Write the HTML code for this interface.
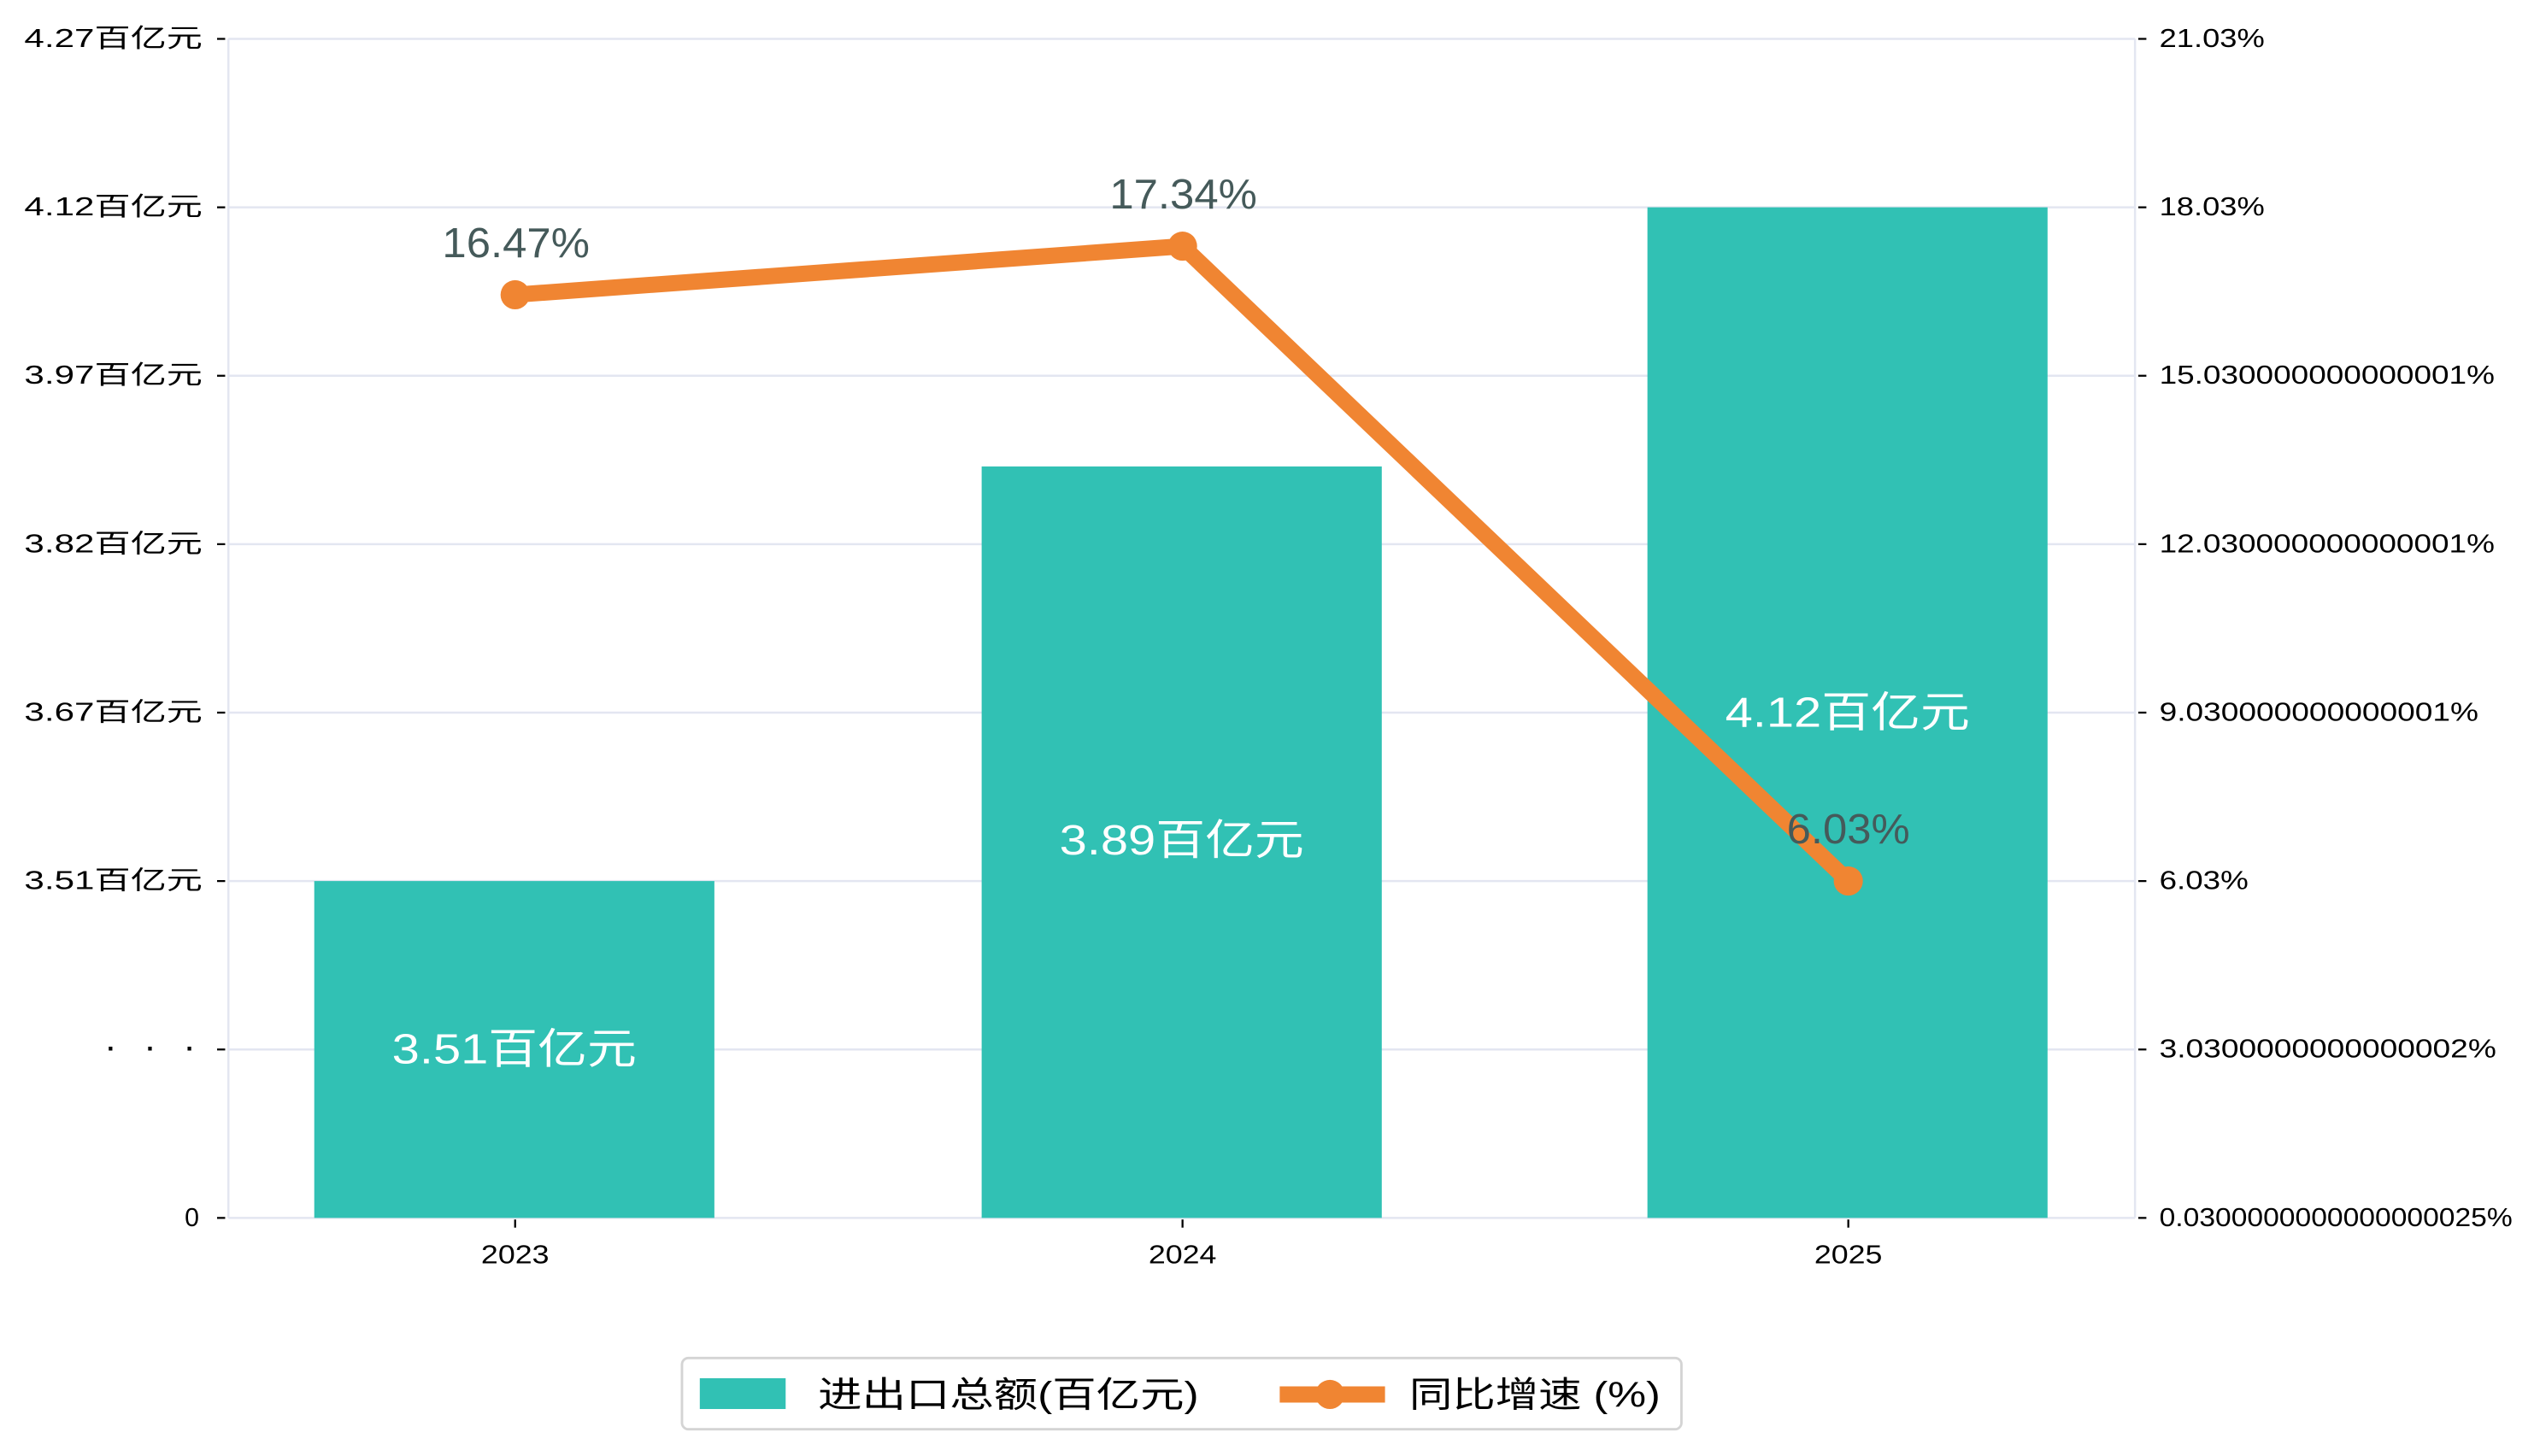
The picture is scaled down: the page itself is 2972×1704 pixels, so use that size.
<!DOCTYPE html>
<html><head><meta charset="utf-8"><style>html,body{margin:0;padding:0;background:#fff}svg{display:block}</style></head>
<body>
<svg width="2972" height="1704" viewBox="0 0 1568 899" xmlns="http://www.w3.org/2000/svg" font-family="'Liberation Sans','Noto Sans CJK SC',sans-serif">
<g stroke="#e3e6f1" stroke-width="1.3">
<line x1="141" y1="24" x2="1318" y2="24"/><line x1="141" y1="128" x2="1318" y2="128"/>
<line x1="141" y1="232" x2="1318" y2="232"/><line x1="141" y1="336" x2="1318" y2="336"/>
<line x1="141" y1="440" x2="1318" y2="440"/><line x1="141" y1="544" x2="1318" y2="544"/>
<line x1="141" y1="648" x2="1318" y2="648"/><line x1="141" y1="752" x2="1318" y2="752"/>
<line x1="141" y1="24" x2="141" y2="752"/><line x1="1318" y1="24" x2="1318" y2="752"/>
</g>
<g stroke="#000" stroke-width="1.2">
<line x1="134" y1="24" x2="139" y2="24"/><line x1="134" y1="128" x2="139" y2="128"/><line x1="134" y1="232" x2="139" y2="232"/><line x1="134" y1="336" x2="139" y2="336"/><line x1="134" y1="440" x2="139" y2="440"/><line x1="134" y1="544" x2="139" y2="544"/><line x1="134" y1="648" x2="139" y2="648"/><line x1="134" y1="752" x2="139" y2="752"/>
<line x1="1320" y1="24" x2="1325" y2="24"/><line x1="1320" y1="128" x2="1325" y2="128"/><line x1="1320" y1="232" x2="1325" y2="232"/><line x1="1320" y1="336" x2="1325" y2="336"/><line x1="1320" y1="440" x2="1325" y2="440"/><line x1="1320" y1="544" x2="1325" y2="544"/><line x1="1320" y1="648" x2="1325" y2="648"/><line x1="1320" y1="752" x2="1325" y2="752"/>
<line x1="318" y1="753" x2="318" y2="758"/><line x1="730" y1="753" x2="730" y2="758"/><line x1="1141" y1="753" x2="1141" y2="758"/>
</g>
<g font-size="16" fill="#000" dominant-baseline="central" lengthAdjust="spacingAndGlyphs">
<text x="15" y="24" textLength="110" lengthAdjust="spacingAndGlyphs">4.27百亿元</text>
<text x="15" y="128" textLength="110" lengthAdjust="spacingAndGlyphs">4.12百亿元</text>
<text x="15" y="232" textLength="110" lengthAdjust="spacingAndGlyphs">3.97百亿元</text>
<text x="15" y="336" textLength="110" lengthAdjust="spacingAndGlyphs">3.82百亿元</text>
<text x="15" y="440" textLength="110" lengthAdjust="spacingAndGlyphs">3.67百亿元</text>
<text x="15" y="544" textLength="110" lengthAdjust="spacingAndGlyphs">3.51百亿元</text>
<text x="66" y="648" font-weight="bold" textLength="54" lengthAdjust="spacing">· · ·</text>
<text x="114" y="752">0</text>
</g>
<g font-size="16" fill="#000" dominant-baseline="central">
<text x="1333" y="24" textLength="65" lengthAdjust="spacingAndGlyphs">21.03%</text>
<text x="1333" y="128" textLength="65" lengthAdjust="spacingAndGlyphs">18.03%</text>
<text x="1333" y="232" textLength="207" lengthAdjust="spacingAndGlyphs">15.030000000000001%</text>
<text x="1333" y="336" textLength="207" lengthAdjust="spacingAndGlyphs">12.030000000000001%</text>
<text x="1333" y="440" textLength="197" lengthAdjust="spacingAndGlyphs">9.030000000000001%</text>
<text x="1333" y="544" textLength="55" lengthAdjust="spacingAndGlyphs">6.03%</text>
<text x="1333" y="648" textLength="208" lengthAdjust="spacingAndGlyphs">3.0300000000000002%</text>
<text x="1333" y="752" textLength="218" lengthAdjust="spacingAndGlyphs">0.0300000000000000025%</text>
</g>
<g font-size="16" fill="#000" dominant-baseline="central">
<text x="297" y="775" textLength="42" lengthAdjust="spacingAndGlyphs">2023</text>
<text x="709" y="775" textLength="42" lengthAdjust="spacingAndGlyphs">2024</text>
<text x="1120" y="775" textLength="42" lengthAdjust="spacingAndGlyphs">2025</text>
</g>
<g fill="#31c1b4">
<rect x="194" y="544" width="247" height="208"/><rect x="606" y="288" width="247" height="464"/><rect x="1017" y="128" width="247" height="624"/>
</g>
<g font-size="26" fill="#fff" dominant-baseline="central">
<text x="242" y="648" textLength="151" lengthAdjust="spacingAndGlyphs">3.51百亿元</text>
<text x="654" y="519" textLength="151" lengthAdjust="spacingAndGlyphs">3.89百亿元</text>
<text x="1065" y="440" textLength="151" lengthAdjust="spacingAndGlyphs">4.12百亿元</text>
</g>
<polyline points="318,182 730,152 1141,544" fill="none" stroke="#f08532" stroke-width="10" stroke-linejoin="round"/>
<g fill="#f08532"><circle cx="318" cy="182" r="9"/><circle cx="730" cy="152" r="9"/><circle cx="1141" cy="544" r="9"/></g>
<g font-size="26" fill="#455a5a" dominant-baseline="central">
<text x="273" y="150" textLength="91" lengthAdjust="spacingAndGlyphs">16.47%</text>
<text x="685" y="120" textLength="91" lengthAdjust="spacingAndGlyphs">17.34%</text>
<text x="1103" y="512" textLength="76" lengthAdjust="spacingAndGlyphs">6.03%</text>
</g>
<rect x="421" y="838.5" width="617" height="44" rx="4" fill="#fff" stroke="#d4d4d4" stroke-width="1.5"/>
<rect x="432" y="851" width="53" height="19" fill="#31c1b4"/>
<text x="505" y="861" font-size="22" dominant-baseline="central" textLength="235" lengthAdjust="spacingAndGlyphs">进出口总额(百亿元)</text>
<line x1="790" y1="861" x2="855" y2="861" stroke="#f08532" stroke-width="10"/>
<circle cx="821" cy="861" r="9" fill="#f08532"/>
<text x="870" y="861" font-size="22" dominant-baseline="central" textLength="155" lengthAdjust="spacingAndGlyphs">同比增速 (%)</text>
</svg>
</body></html>
